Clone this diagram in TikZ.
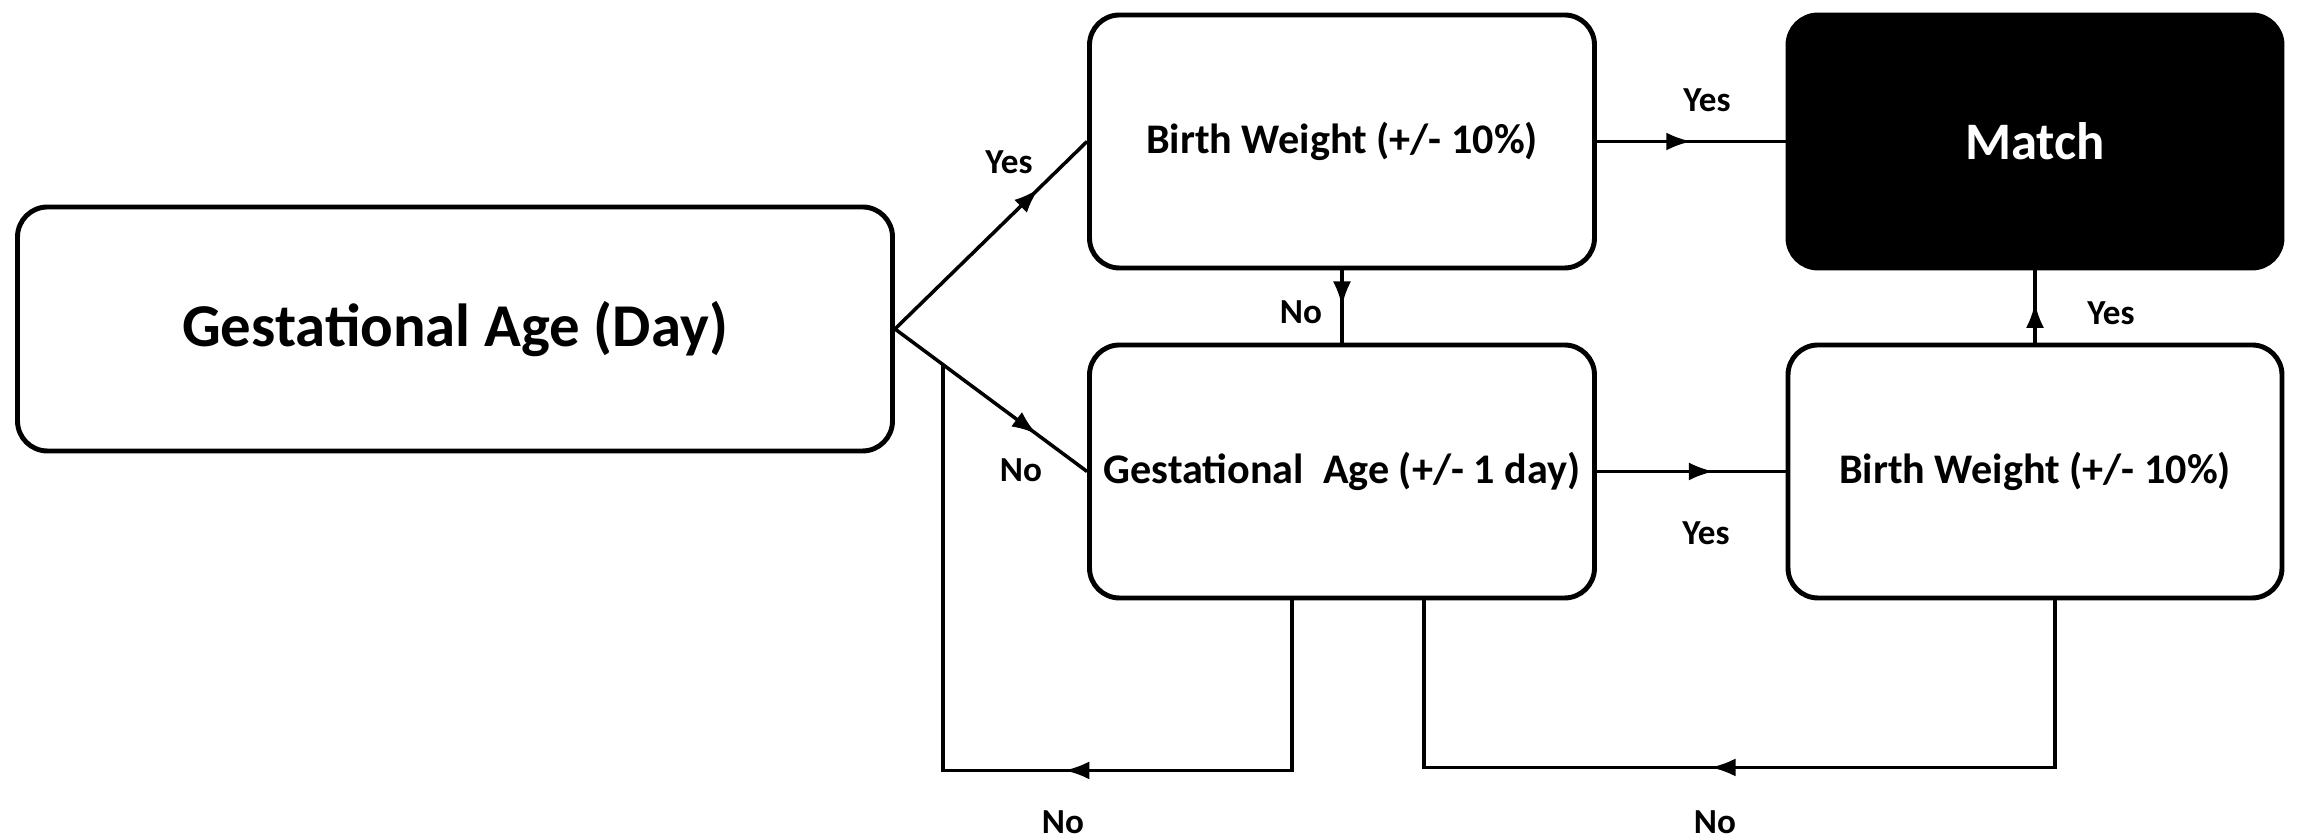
\documentclass[tikz,border=0pt]{standalone}
\usepackage{fontspec}
\setmainfont{Carlito}
\usetikzlibrary{arrows.meta,decorations.markings,calc}

\tikzset{
    box/.style={draw, line width=1.4pt, rounded corners=0.3cm, align=center,
        font=\bfseries\fontsize{12}{14}\selectfont, minimum width=5.05cm, minimum height=2.53cm},
    lbl/.style={font=\bfseries\fontsize{10}{12}\selectfont, inner sep=1pt},
    link/.style={line width=1pt, postaction={decorate},
        decoration={markings, mark=at position #1 with {\arrow{Latex[length=2.5mm,width=1.8mm]}}}},
}

\begin{document}
\begin{tikzpicture}
    \useasboundingbox (0, 0) rectangle (23.03, 8.38);

    % boxes
    \node[box, minimum width=8.75cm, minimum height=2.44cm, font=\bfseries\fontsize{17.3}{20}\selectfont]
        (ga) at (4.55, 5.09) {Gestational Age (Day)};
    \node[box] (bw1) at (13.42, 6.965) {Birth Weight (+/- 10\%)};
    \node[box, fill=black, text=white, minimum width=4.94cm, font=\bfseries\fontsize{15}{18}\selectfont]
        (match) at (20.35, 6.965) {Match};
    \node[box] (ga1) at (13.42, 3.665) {Gestational~ Age (+/- 1 day)};
    \node[box, minimum width=4.94cm] (bw2) at (20.35, 3.665) {Birth Weight (+/- 10\%)};

    \coordinate (j1) at ($(ga.east)!0.25!(ga1.west)$);

    % connectors
    \draw[link=0.75] (ga.east) -- (bw1.west);
    \draw[link=0.74] (ga.east) -- (ga1.west);
    \draw[link=0.5] (bw1.south) -- (ga1.north);
    \draw[link=0.5] (bw1.east) -- (match.west);
    \draw[link=0.62] (ga1.east) -- (bw2.west);
    \draw[link=0.55] (bw2.north) -- (match.south);
    \draw[link=0.43] ($(ga1.south)+(-0.5,0)$) -- ++(0,-1.70) -| (j1);
    \draw[link=0.53] ($(bw2.south)+(0.2,0)$) -- ++(0,-1.67) -| ($(ga1.south)+(0.82,0)$);

    % labels
    \node[lbl] (y1) at (10.09, 6.76) {Yes};
    \node[lbl] (n1) at (10.21, 3.68) {No};
    \node[lbl] (n2) at (13.01, 5.26) {No};
    \node[lbl] (y2) at (17.07, 7.38) {Yes};
    \node[lbl] (y3) at (17.06, 3.05) {Yes};
    \node[lbl] (y4) at (21.11, 5.25) {Yes};
    \node[lbl] (n3) at (10.63, 0.16) {No};
    \node[lbl] (n4) at (17.15, 0.16) {No};
\end{tikzpicture}
\end{document}
